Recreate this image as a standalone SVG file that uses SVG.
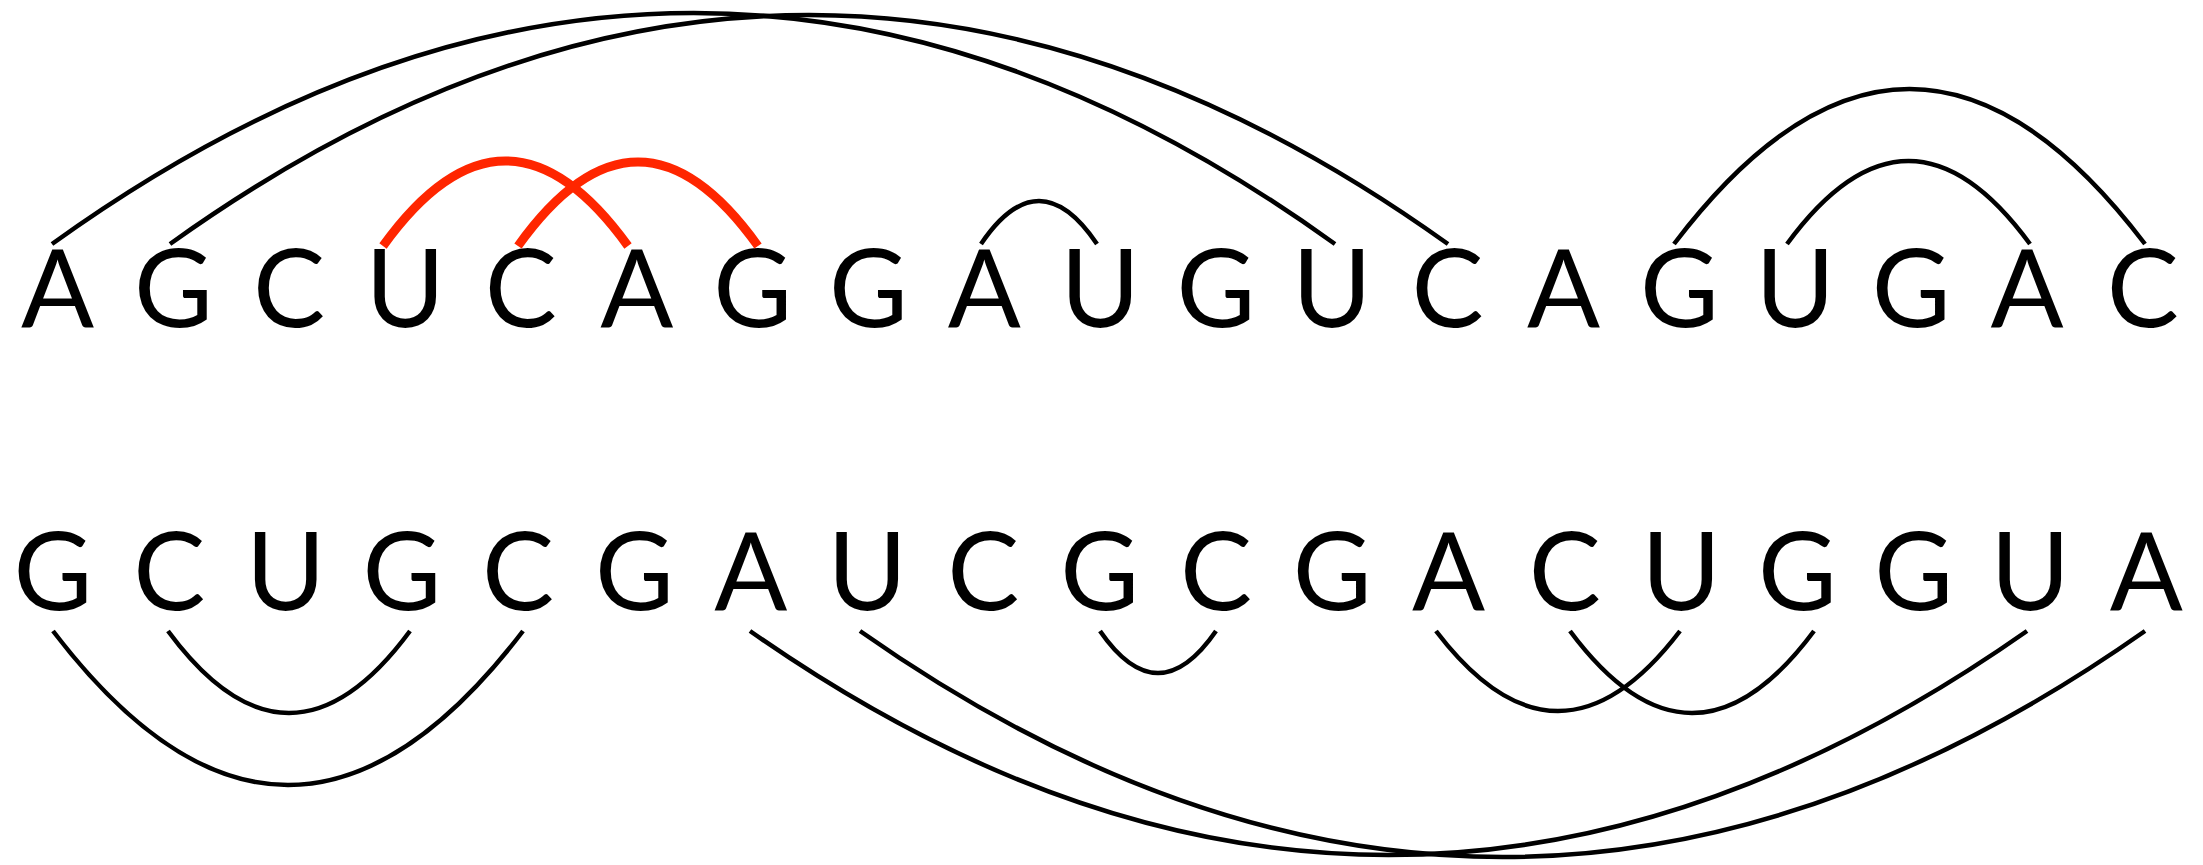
<svg xmlns="http://www.w3.org/2000/svg" width="2203" height="865" viewBox="0 0 2203 865">
<style>
.b{font-family:Lato,"Open Sans","DejaVu Sans",sans-serif;font-size:108px;fill:#000;text-anchor:middle}
.a{fill:none;stroke:#000;stroke-width:4.5}
.r{fill:none;stroke:#ff2600;stroke-width:9}
</style>
<rect width="2203" height="865" fill="#fff"/>
<g id="top-row">
<g id="t0"><text class="b" x="57.5" y="327">A</text></g>
<g id="t1"><text class="b" x="173.4" y="327">G</text></g>
<g id="t2"><text class="b" x="289.2" y="327">C</text></g>
<g id="t3"><text class="b" x="405.1" y="327">U</text></g>
<g id="t4"><text class="b" x="520.9" y="327">C</text></g>
<g id="t5"><text class="b" x="636.8" y="327">A</text></g>
<g id="t6"><text class="b" x="752.6" y="327">G</text></g>
<g id="t7"><text class="b" x="868.5" y="327">G</text></g>
<g id="t8"><text class="b" x="984.3" y="327">A</text></g>
<g id="t9"><text class="b" x="1100.2" y="327">U</text></g>
<g id="t10"><text class="b" x="1216" y="327">G</text></g>
<g id="t11"><text class="b" x="1331.9" y="327">U</text></g>
<g id="t12"><text class="b" x="1447.7" y="327">C</text></g>
<g id="t13"><text class="b" x="1563.6" y="327">A</text></g>
<g id="t14"><text class="b" x="1679.4" y="327">G</text></g>
<g id="t15"><text class="b" x="1795.3" y="327">U</text></g>
<g id="t16"><text class="b" x="1911.1" y="327">G</text></g>
<g id="t17"><text class="b" x="2027" y="327">A</text></g>
<g id="t18"><text class="b" x="2142.8" y="327">C</text></g>
</g>
<g id="bottom-row">
<g id="b0"><text class="b" x="53" y="610">G</text></g>
<g id="b1"><text class="b" x="169.3" y="610">C</text></g>
<g id="b2"><text class="b" x="285.6" y="610">U</text></g>
<g id="b3"><text class="b" x="401.9" y="610">G</text></g>
<g id="b4"><text class="b" x="518.2" y="610">C</text></g>
<g id="b5"><text class="b" x="634.5" y="610">G</text></g>
<g id="b6"><text class="b" x="750.8" y="610">A</text></g>
<g id="b7"><text class="b" x="867.1" y="610">U</text></g>
<g id="b8"><text class="b" x="983.4" y="610">C</text></g>
<g id="b9"><text class="b" x="1099.7" y="610">G</text></g>
<g id="b10"><text class="b" x="1216" y="610">C</text></g>
<g id="b11"><text class="b" x="1332.3" y="610">G</text></g>
<g id="b12"><text class="b" x="1448.6" y="610">A</text></g>
<g id="b13"><text class="b" x="1564.9" y="610">C</text></g>
<g id="b14"><text class="b" x="1681.2" y="610">U</text></g>
<g id="b15"><text class="b" x="1797.5" y="610">G</text></g>
<g id="b16"><text class="b" x="1913.8" y="610">G</text></g>
<g id="b17"><text class="b" x="2030.1" y="610">U</text></g>
<g id="b18"><text class="b" x="2146.4" y="610">A</text></g>
</g>
<g id="connectors">
<path class="a" d="M52 244 Q694 -218 1335 244"/>
<path class="a" d="M170 244 Q809 -214 1448 244"/>
<path class="r" d="M383 246 Q505.5 76 628 246"/>
<path class="r" d="M518 246 Q638 78 758 246"/>
<path class="a" d="M981 244 Q1039 158 1097 244"/>
<path class="a" d="M1674 244 Q1909.5 -66 2145 244"/>
<path class="a" d="M1787 244 Q1908.5 78 2030 244"/>
<path class="a" d="M53 631 Q288 939 523 631"/>
<path class="a" d="M168 631 Q289 795 410 631"/>
<path class="a" d="M1100 631 Q1158 715 1216 631"/>
<path class="a" d="M1436 631 Q1558 791 1680 631"/>
<path class="a" d="M1570 631 Q1692 795 1814 631"/>
<path class="a" d="M750 631 Q1388.5 1079 2027 631"/>
<path class="a" d="M860 631 Q1502.5 1083 2145 631"/>
</g>
</svg>
